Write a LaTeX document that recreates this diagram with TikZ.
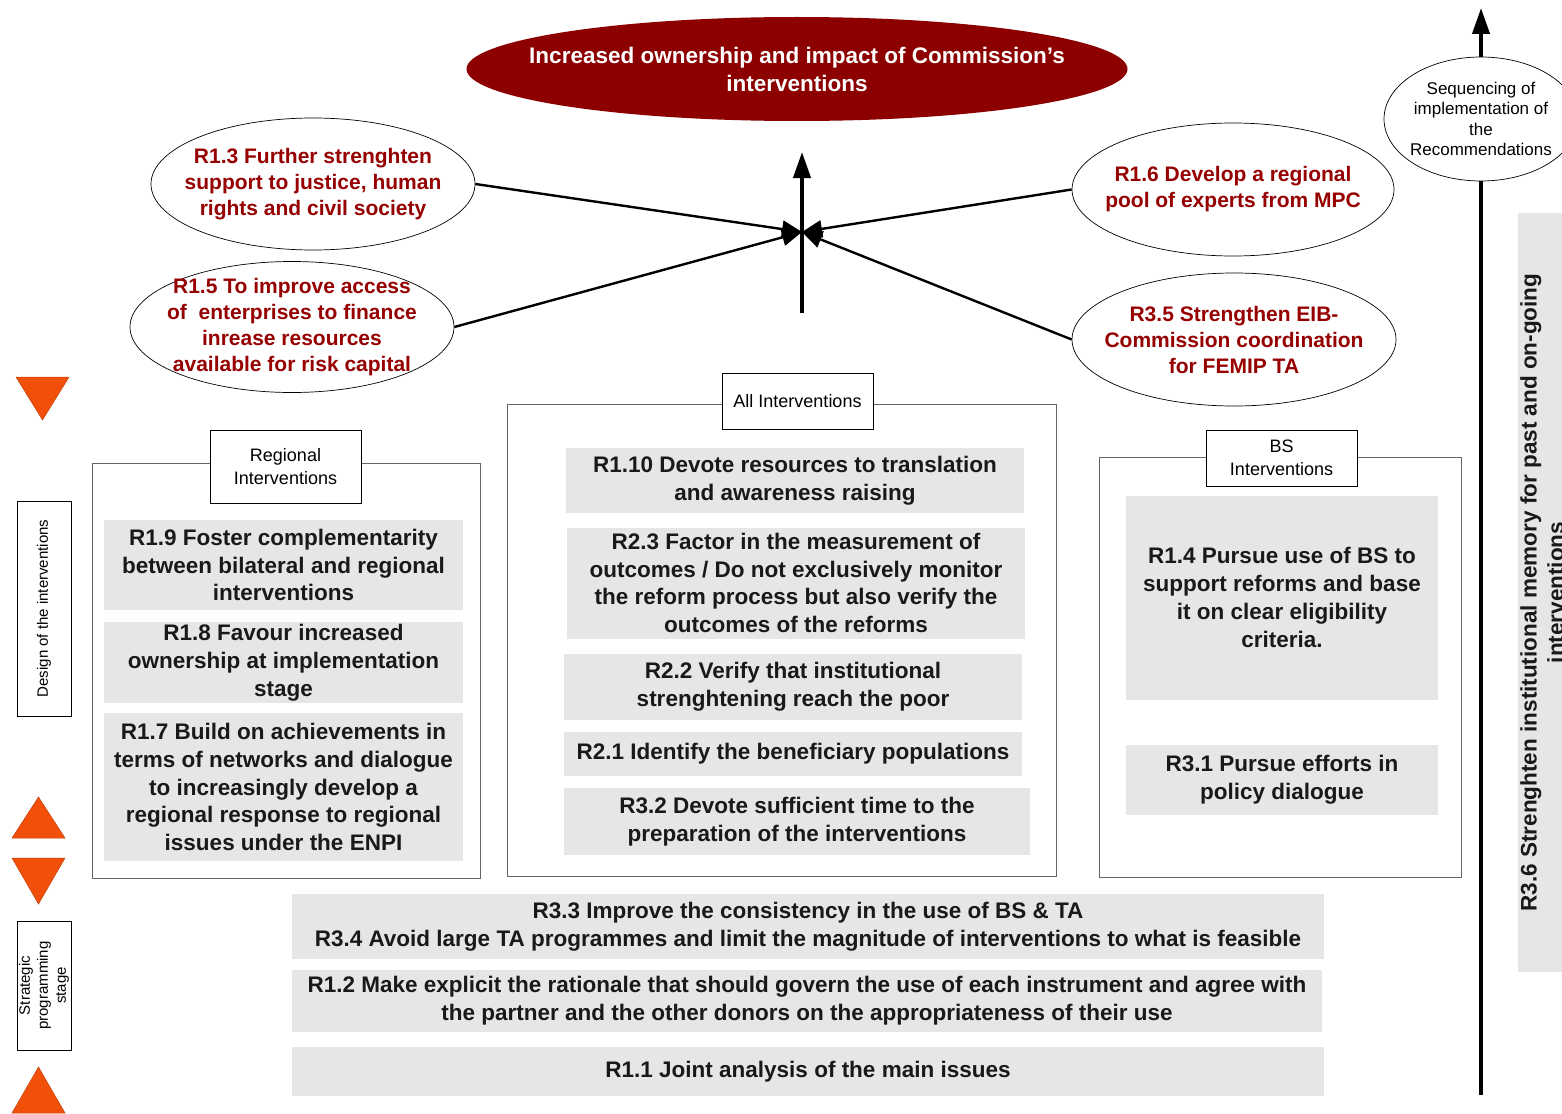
\documentclass[tikz,border=0pt]{standalone}
\usepackage{fontspec}
\setmainfont{Liberation Sans}
\usetikzlibrary{arrows.meta,shapes.geometric}
\definecolor{boxgray}{RGB}{230,230,230}
\definecolor{darkred}{RGB}{140,0,0}
\definecolor{rectext}{RGB}{150,0,0}
\definecolor{stageorange}{RGB}{242,80,10}
\definecolor{framegray}{RGB}{100,100,100}
\begin{document}
\begin{tikzpicture}[x=1pt,y=-1pt,
  rec/.style={fill=boxgray,text=black!90,font=\bfseries\fontsize{22.5}{27.8}\selectfont,align=center,inner sep=0pt},
  goal/.style={ellipse,draw,line width=0.7pt,fill=white,inner sep=-60pt,text=rectext,font=\bfseries\fontsize{21}{26}\selectfont,align=center},
  frame/.style={draw=framegray,line width=1pt,inner sep=0pt},
  tag/.style={draw,fill=white,line width=0.8pt,inner sep=0pt,align=center,font=\fontsize{18}{23}\selectfont},
  stage/.style={draw,line width=0.8pt,inner sep=0pt,align=center,rotate=90,font=\fontsize{15}{18}\selectfont},
  link/.style={line width=2.4pt,-{Triangle[length=20pt,width=17pt]}},
  spine/.style={line width=4pt,-{Triangle[length=26pt,width=17pt]}},
  tri/.style={fill=stageorange,draw=stageorange!80!black,line width=0.5pt}]
\useasboundingbox (0,0) rectangle (1562,1113);
\clip (0,0) rectangle (1562,1113);

% objective and contributing recommendations
\node[ellipse,fill=darkred,inner sep=-60pt,minimum width=661,minimum height=104,text=white,align=center,
  font=\bfseries\fontsize{22.5}{28}\selectfont] (impact) at (797,69) {Increased ownership and impact of Commission’s\\interventions};
\coordinate (hub) at (802,232);
\coordinate (stem) at (802,313);
\coordinate (top) at (802,152);
\draw[spine] (stem) -- (top);
\node[goal,minimum width=324,minimum height=132] (r13) at (313,184) {R1.3 Further strenghten\\support to justice, human\\rights and civil society};
\node[goal,minimum width=324,minimum height=131] (r15) at (292,327) {R1.5 To improve access\\of \ enterprises to finance\\inrease resources\\available for risk capital};
\node[goal,minimum width=322,minimum height=133] (r16) at (1233,189.5) {R1.6 Develop a regional\\pool of experts from MPC};
\node[goal,minimum width=324,minimum height=133] (r35) at (1234,339.5) {R3.5 Strengthen EIB-\\Commission coordination\\for FEMIP TA};
\draw[link] (r13.east) -- (hub);
\draw[link] (r15.east) -- (hub);
\draw[link] (r16.west) -- (hub);
\draw[link] (r35.west) -- (hub);

% sequencing axis
\coordinate (base) at (1481,1095);
\coordinate (peak) at (1481,8);
\draw[spine] (base) -- (peak);
\node[ellipse,draw,line width=0.7pt,fill=white,inner sep=-40pt,minimum width=194,minimum height=124,align=center,
  font=\fontsize{17}{20.5}\selectfont] (seq) at (1481,119) {Sequencing of\\implementation of\\the\\Recommendations};
\node[rec,rotate=90,minimum width=759,minimum height=48,font=\bfseries\fontsize{22.5}{27}\selectfont] (r36) at (1542,592.5)
  {R3.6 Strenghten institutional memory for past and on-going\\interventions};

% stages
\draw[tri] (16,377) -- (69,377) -- (42.5,420) -- cycle;
\draw[tri] (12,838) -- (65,838) -- (38.5,797) -- cycle;
\draw[tri] (12,858) -- (65,858) -- (38.5,904) -- cycle;
\draw[tri] (12,1113) -- (65,1113) -- (38.5,1067) -- cycle;
\node[stage,minimum width=215,minimum height=54] (design) at (44,608.5) {Design of the interventions};
\node[stage,minimum width=129,minimum height=54] (strategic) at (44,985.5) {Strategic\\programming\\stage};

% regional interventions
\node[frame,minimum width=388,minimum height=415] (regional) at (286,670.5) {};
\node[tag,minimum width=151,minimum height=73] (regtag) at (285.5,466.5) {Regional\\Interventions};
\node[rec,minimum width=359,minimum height=90] (r19) at (283.5,565) {R1.9 Foster complementarity\\between bilateral and regional\\interventions};
\node[rec,minimum width=359,minimum height=81] (r18) at (283.5,662.5) {R1.8 Favour increased\\ownership at implementation\\stage};
\node[rec,minimum width=359,minimum height=148] (r17) at (283.5,787) {R1.7 Build on achievements in\\terms of networks and dialogue\\to increasingly develop a\\regional response to regional\\issues under the ENPI};

% all interventions
\node[frame,minimum width=549,minimum height=472] (all) at (781.5,640) {};
\node[tag,minimum width=151,minimum height=56] (alltag) at (797.5,401) {All Interventions};
\node[rec,minimum width=458,minimum height=65] (r110) at (795,480.5) {R1.10 Devote resources to translation\\and awareness raising};
\node[rec,minimum width=458,minimum height=111] (r23) at (796,583) {R2.3 Factor in the measurement of\\outcomes / Do not exclusively monitor\\the reform process but also verify the\\outcomes of the reforms};
\node[rec,minimum width=458,minimum height=66] (r22) at (793,687) {R2.2 Verify that institutional\\strenghtening reach the poor};
\node[rec,minimum width=458,minimum height=44] (r21) at (793,754) {R2.1 Identify the beneficiary populations};
\node[rec,minimum width=466,minimum height=67] (r32) at (797,821.5) {R3.2 Devote sufficient time to the\\preparation of the interventions};

% budget support interventions
\node[frame,minimum width=362,minimum height=420] (bs) at (1280,667) {};
\node[tag,minimum width=151,minimum height=56] (bstag) at (1281.5,458) {BS\\Interventions};
\node[rec,minimum width=312,minimum height=204] (r14) at (1282,597.5) {R1.4 Pursue use of BS to\\support reforms and base\\it on clear eligibility\\criteria.};
\node[rec,minimum width=312,minimum height=70] (r31) at (1282,780) {R3.1 Pursue efforts in\\policy dialogue};

% strategic programming
\node[rec,minimum width=1032,minimum height=65] (r33) at (808,926.5) {R3.3 Improve the consistency in the use of BS \& TA\\R3.4 Avoid large TA programmes and limit the magnitude of interventions to what is feasible};
\node[rec,minimum width=1030,minimum height=62] (r12) at (807,1001) {R1.2 Make explicit the rationale that should govern the use of each instrument and agree with\\the partner and the other donors on the appropriateness of their use};
\node[rec,minimum width=1032,minimum height=49] (r11) at (808,1071.5) {R1.1 Joint analysis of the main issues};
\end{tikzpicture}
\end{document}
